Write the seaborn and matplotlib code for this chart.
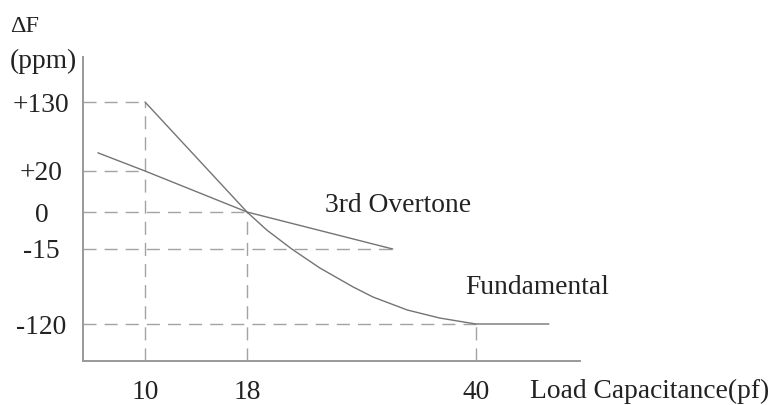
import numpy as np
import pandas as pd
import matplotlib
matplotlib.use("Agg")
import matplotlib.pyplot as plt
import seaborn as sns

# ---------------------------------------------------------
# data

x_ticks = [10, 18, 40]
x_tick_labels = ["10", "18", "40"]

y_ticks = [130, 20, 0, -15, -120]
y_tick_labels = ["+130", "+20", "0", "-15", "-120"]

fund_x = [10, 18, 19.9, 22.3, 25.0, 28.2, 30.1, 33.4, 36.5, 39.4, 40, 47]
fund_y = [130, 0, -7.3, -15, -41.6, -68.2, -82.2, -100.4, -111.6, -118.6, -120, -120]

over_x = [6.2, 10, 18, 32]
over_y = [49, 20, 0, -15]

# guide lines: level on y, how far they reach on x
guide_y = [130, 20, 0, -15, -120]
guide_x_end = [10, 10, 18, 32, 40]

# vertical guides: x position, how far up they reach
vguide_x = [10, 18, 40]
vguide_top = [130, 0, -120]

# ---------------------------------------------------------
# schematic (non-uniform) axes: knots -> pixel distance along the axis

X_KNOTS = [5, 10, 18, 40, 50]
X_PIX = [0, 62, 164, 393, 497]

Y_KNOTS = [-172, -120, -15, 0, 20, 130, 203]
Y_PIX = [0, 37, 112, 149, 190, 259, 304]


def fwd_x(v):
    return np.interp(v, X_KNOTS, X_PIX)


def inv_x(p):
    return np.interp(p, X_PIX, X_KNOTS)


def fwd_y(v):
    return np.interp(v, Y_KNOTS, Y_PIX)


def inv_y(p):
    return np.interp(p, Y_PIX, Y_KNOTS)


# ---------------------------------------------------------

sns.set_theme(style="white")
plt.rcParams["font.family"] = ["Liberation Serif", "DejaVu Serif"]
plt.rcParams["lines.scale_dashes"] = False

TEXT = "#222222"
LINE = "#747474"
DASH = "#a3a3a3"
AXIS = "#999999"
FS = 19.8

W, H = 773, 405
fig = plt.figure(figsize=(W / 100, H / 100), dpi=100)
ax = fig.add_axes([83 / W, (H - 361) / H, 497 / W, 304 / H])

ax.set_xscale("function", functions=(fwd_x, inv_x))
ax.set_yscale("function", functions=(fwd_y, inv_y))
ax.set_xlim(X_KNOTS[0], X_KNOTS[-1])
ax.set_ylim(Y_KNOTS[0], Y_KNOTS[-1])

dash_style = (0, (9.4, 5.8))

# horizontal guides from the y axis
for level, end in zip(guide_y, guide_x_end):
    ax.plot([X_KNOTS[0], end], [level, level], color=DASH, lw=1.0,
            linestyle=dash_style, zorder=1)

# vertical guides up from the x axis
for xv, top in zip(vguide_x, vguide_top):
    ax.plot([xv, xv], [Y_KNOTS[0], top], color=DASH, lw=1.0,
            linestyle=dash_style, zorder=1)

fund = pd.DataFrame({"x": fund_x, "y": fund_y})
over = pd.DataFrame({"x": over_x, "y": over_y})

sns.lineplot(data=fund, x="x", y="y", sort=False, estimator=None,
             color=LINE, linewidth=1.0, ax=ax, zorder=3)
sns.lineplot(data=over, x="x", y="y", sort=False, estimator=None,
             color=LINE, linewidth=1.0, ax=ax, zorder=3)

ax.set_xlabel("")
ax.set_ylabel("")

ax.set_xticks(x_ticks)
ax.set_xticklabels(x_tick_labels)
ax.set_yticks(y_ticks)
ax.set_yticklabels(y_tick_labels)
ax.minorticks_off()

ax.tick_params(axis="both", length=0, labelsize=FS, labelcolor=TEXT)
ax.tick_params(axis="x", pad=14)
ax.tick_params(axis="y", pad=30)
for lab in ax.get_yticklabels():
    lab.set_horizontalalignment("center")

for side in ["top", "right"]:
    ax.spines[side].set_visible(False)
for side in ["left", "bottom"]:
    ax.spines[side].set_color(AXIS)
    ax.spines[side].set_linewidth(1.4)

# ---------------------------------------------------------
# annotations

fig.text(10 / W, 1 - 27 / H, "ΔF", fontsize=17.5, color=TEXT, va="center")
fig.text(10 / W, 1 - 61 / H, "(ppm)", fontsize=FS, color=TEXT, va="center")
fig.text(325 / W, 1 - 205 / H, "3rd Overtone", fontsize=FS, color=TEXT, va="center")
fig.text(465 / W, 1 - 288 / H, "Fundamental", fontsize=FS, color=TEXT, va="center")
fig.text(530 / W, 1 - 391 / H, "Load Capacitance(pf)", fontsize=FS,
         color=TEXT, va="center")

fig.savefig("out.png", dpi=100)
